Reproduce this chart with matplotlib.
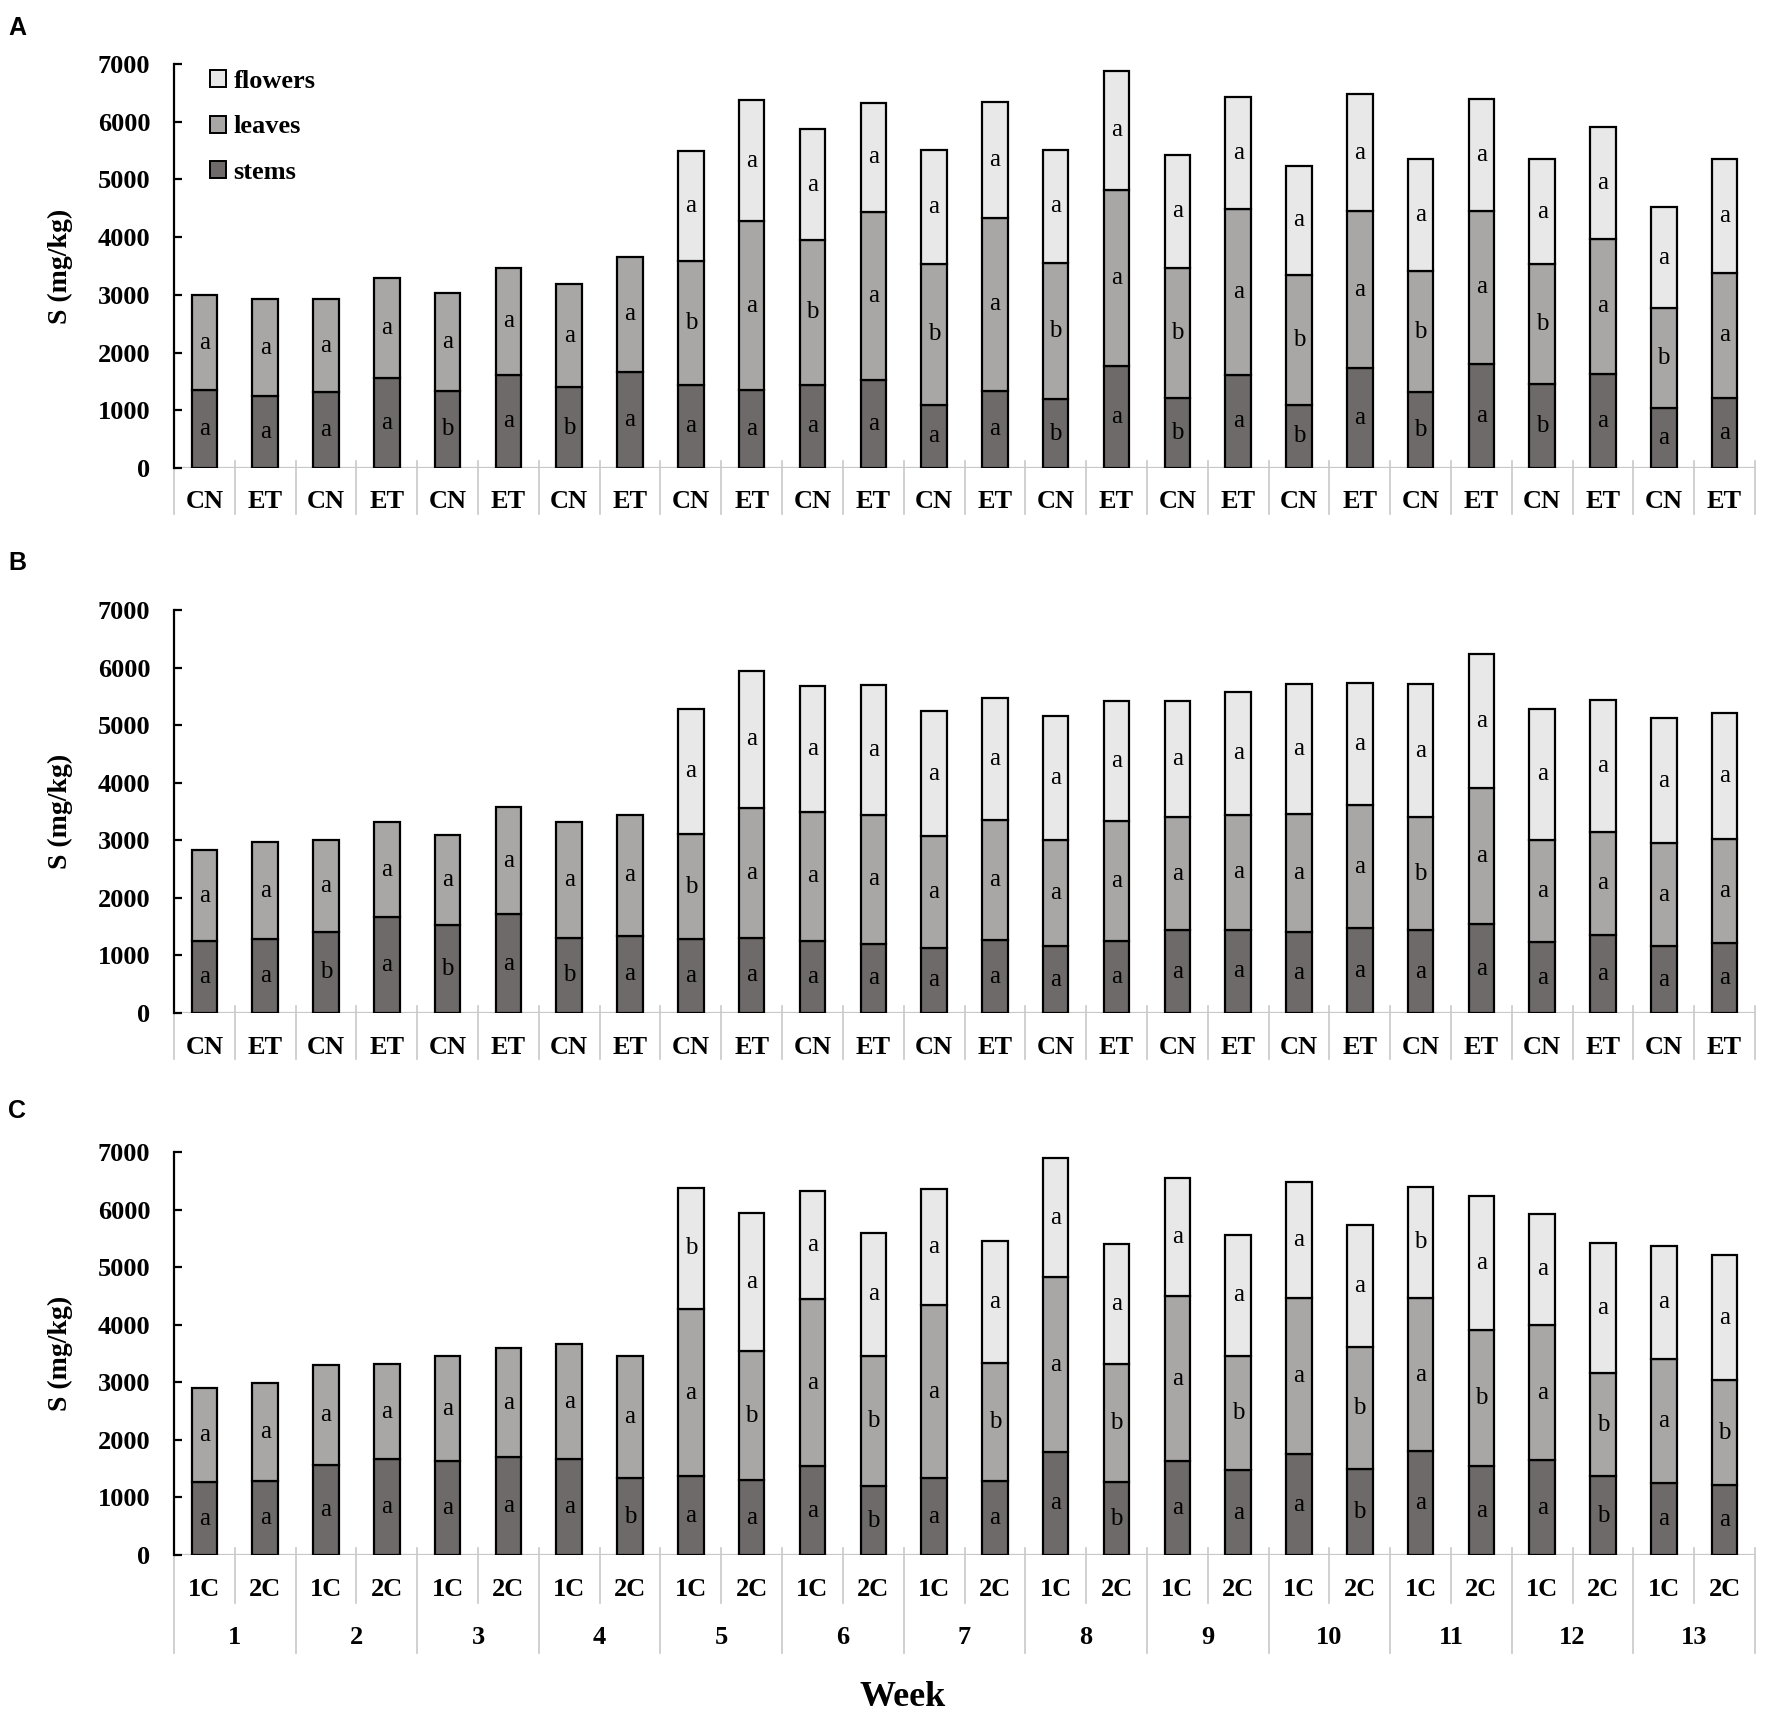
import numpy as np
import matplotlib
matplotlib.use("Agg")
import matplotlib.pyplot as plt
from matplotlib.patches import Patch
from matplotlib.transforms import offset_copy
from matplotlib.font_manager import FontProperties

# ---------------- data ----------------
labels_AB = ["CN", "ET"] * 13
labels_C = ["1C", "2C"] * 13
weeks = [str(w) for w in range(1, 14)]

A_stems = [1350, 1250, 1310, 1560, 1340, 1620, 1395, 1665, 1445, 1355, 1445, 1530, 1100,
           1335, 1195, 1770, 1205, 1620, 1100, 1730, 1310, 1800, 1460, 1635, 1045, 1220]
A_leaves = [1640, 1670, 1610, 1730, 1695, 1840, 1800, 1995, 2145, 2920, 2505, 2910, 2440,
            3000, 2365, 3055, 2265, 2875, 2250, 2725, 2100, 2655, 2070, 2340, 1720, 2160]
A_flowers = [0, 0, 0, 0, 0, 0, 0, 0, 1910, 2105, 1920, 1880, 1975,
             2015, 1955, 2055, 1955, 1935, 1890, 2020, 1950, 1935, 1820, 1930, 1750, 1980]

B_stems = [1250, 1280, 1415, 1665, 1525, 1715, 1310, 1345, 1280, 1310, 1250, 1205, 1135,
           1265, 1160, 1255, 1435, 1445, 1405, 1475, 1435, 1545, 1225, 1355, 1160, 1220]
B_leaves = [1580, 1690, 1595, 1650, 1575, 1865, 2005, 2100, 1825, 2255, 2245, 2230, 1935,
            2090, 1850, 2085, 1965, 2000, 2060, 2135, 1965, 2360, 1785, 1795, 1790, 1810]
B_flowers = [0, 0, 0, 0, 0, 0, 0, 0, 2180, 2375, 2180, 2265, 2180,
             2110, 2155, 2080, 2020, 2135, 2250, 2125, 2315, 2335, 2275, 2280, 2170, 2180]

C_stems = [1265, 1280, 1560, 1665, 1630, 1700, 1665, 1335, 1365, 1295, 1545, 1190, 1335,
           1280, 1790, 1260, 1630, 1470, 1750, 1490, 1805, 1545, 1650, 1365, 1245, 1210]
C_leaves = [1635, 1700, 1735, 1645, 1820, 1890, 1995, 2115, 2905, 2255, 2895, 2270, 3000,
            2060, 3035, 2060, 2870, 1980, 2710, 2130, 2655, 2355, 2340, 1790, 2165, 1830]
C_flowers = [0, 0, 0, 0, 0, 0, 0, 0, 2110, 2395, 1890, 2135, 2030,
             2120, 2065, 2085, 2040, 2115, 2015, 2115, 1940, 2330, 1940, 2270, 1960, 2170]

A_sig_stems = list("aaaababaaaaaaabababababaaa")
A_sig_leaves = list("aaaaaaaabababababababababa")
A_sig_flowers = [""] * 8 + ["a"] * 18

B_sig_stems = list("aabababaaaaaaaaaaaaaaaaaaa")
B_sig_leaves = list("aaaaaaaabaaaaaaaaaaabaaaaa")
B_sig_flowers = [""] * 8 + ["a"] * 18

C_sig_stems = list("aaaaaaabaaabaaabaaabaaabaa")
C_sig_leaves = list("aaaaaaaaababababababababab")
C_sig_flowers = [""] * 8 + list("baaaaaaaaaaabaaaaa")

series_names = ["flowers", "leaves", "stems"]

# ---------------- style ----------------
W, H = 1775, 1712
col_stem = "#6f6a6a"
col_leaf = "#a9a6a6"
col_flower = "#e8e8e8"
sep_col = "#c8c8c8"
SERIF = "Liberation Serif"

fig = plt.figure(figsize=(W / 100, H / 100), dpi=100)

LEFT, RIGHT = 174, 1755
panels = [
    ("A", 64, 468, labels_AB, A_stems, A_leaves, A_flowers, A_sig_stems, A_sig_leaves, A_sig_flowers, 28),
    ("B", 610, 1013, labels_AB, B_stems, B_leaves, B_flowers, B_sig_stems, B_sig_leaves, B_sig_flowers, 563),
    ("C", 1152, 1555, labels_C, C_stems, C_leaves, C_flowers, C_sig_stems, C_sig_leaves, C_sig_flowers, 1111),
]

for (name, top, bottom, xl, st, lv, fl, sst, slv, sfl, ly) in panels:
    ax = fig.add_axes([LEFT / W, 1 - bottom / H, (RIGHT - LEFT) / W, (bottom - top) / H])
    axh = bottom - top
    n = len(st)
    x = np.arange(n)
    st = np.array(st, float)
    lv = np.array(lv, float)
    fl = np.array(fl, float)
    bw = 0.42
    ax.bar(x, st, width=bw, color=col_stem, edgecolor="black", linewidth=1.6, zorder=2)
    ax.bar(x, lv, bottom=st, width=bw, color=col_leaf, edgecolor="black", linewidth=1.6, zorder=2)
    m = fl > 0
    ax.bar(x[m], fl[m], bottom=(st + lv)[m], width=bw, color=col_flower,
           edgecolor="black", linewidth=1.6, zorder=2)
    # significance letters
    for i in range(n):
        for letter, b, h in ((sst[i], 0, st[i]), (slv[i], st[i], lv[i]), (sfl[i], st[i] + lv[i], fl[i])):
            if letter and h > 0:
                ax.text(x[i], b + h / 2, letter, ha="center", va="center",
                        fontsize=18, family=SERIF, zorder=3)

    ax.set_xlim(-0.5, n - 0.5)
    ax.set_ylim(0, 7000)
    ax.set_yticks(np.arange(0, 7001, 1000))
    ax.set_xticks([])
    for s in ("top", "right", "bottom"):
        ax.spines[s].set_visible(False)
    ax.spines["left"].set_linewidth(1.6)
    ax.tick_params(axis="y", direction="in", length=6, width=1.6, pad=17)
    for t in ax.get_yticklabels():
        t.set_fontfamily(SERIF)
        t.set_fontweight("bold")
        t.set_fontsize(19)

    # x axis line (gray)
    ax.axhline(0, color=sep_col, lw=1.6, zorder=1)

    tr = ax.get_xaxis_transform()
    lab_tr = offset_copy(tr, fig=fig, x=0, y=-34, units="dots")
    for i, lab in enumerate(xl):
        ax.text(i, 0, lab, transform=lab_tr, ha="center", va="center",
                fontsize=19, fontweight="bold", family=SERIF, clip_on=False)

    up = 7 / axh
    if name in ("A", "B"):
        for k in range(n + 1):
            ax.plot([k - 0.5, k - 0.5], [up, -46 / axh], transform=tr, color=sep_col,
                    lw=1.2, clip_on=False, zorder=1)
    else:
        for k in range(n + 1):
            low = -98 / axh if k % 2 == 0 else -48 / axh
            ax.plot([k - 0.5, k - 0.5], [up, low], transform=tr, color=sep_col,
                    lw=1.2, clip_on=False, zorder=1)
        wk_tr = offset_copy(tr, fig=fig, x=0, y=-83, units="dots")
        for w, lab in enumerate(weeks):
            ax.text(2 * w + 0.5, 0, lab, transform=wk_tr, ha="center", va="center",
                    fontsize=19, fontweight="bold", family=SERIF, clip_on=False)

    # y label
    fig.text(60 / W, 1 - (top + bottom) / 2 / H, "S (mg/kg)", rotation=90,
             ha="center", va="center", fontsize=20, fontweight="bold", family=SERIF)
    # panel letter
    fig.text(17 / W, 1 - ly / H, name, ha="center", va="center",
             fontsize=18, fontweight="bold", family="Liberation Sans")

    if name == "A":
        handles = [Patch(facecolor=col_flower, edgecolor="black", linewidth=1.4, label=series_names[0]),
                   Patch(facecolor=col_leaf, edgecolor="black", linewidth=1.4, label=series_names[1]),
                   Patch(facecolor=col_stem, edgecolor="black", linewidth=1.4, label=series_names[2])]
        ax.legend(handles=handles, loc="upper left",
                  bbox_to_anchor=((210 - LEFT) / (RIGHT - LEFT), 1.0 - 6 / axh),
                  frameon=False, prop=FontProperties(family=SERIF, weight="bold", size=19),
                  handlelength=0.6, handleheight=0.6, handletextpad=0.3,
                  labelspacing=0.85, borderpad=0, borderaxespad=0)

fig.text(903 / W, 1 - 1698 / H, "Week", ha="center", va="center",
         fontsize=26, fontweight="bold", family=SERIF)

fig.savefig("out.png", dpi=100)
